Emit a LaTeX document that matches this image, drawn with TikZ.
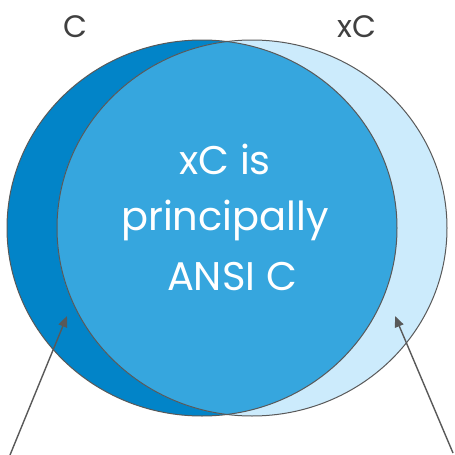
\documentclass[tikz,border=0pt]{standalone}
\usepackage{fontspec}
\setmainfont{Poppins}
\usetikzlibrary{arrows.meta}
\definecolor{cdark}{RGB}{2,132,200}
\definecolor{cmid}{RGB}{54,166,222}
\definecolor{clight}{RGB}{204,235,252}
\definecolor{cline}{RGB}{89,89,89}
\definecolor{ctext}{RGB}{64,64,64}
\tikzset{
  outline/.style={draw=cline, line width=1pt},
  lbl/.style={text=ctext, font=\fontsize{31}{31}\selectfont, inner sep=0pt, anchor=base},
  inner/.style={text=white, font=\fontsize{40}{58}\selectfont, inner sep=0pt, anchor=base},
  pointer/.style={draw=cline, line width=1.4pt, -{Triangle[length=11pt,width=9pt]}},
}
\begin{document}
\begin{tikzpicture}[x=1pt,y=-1pt]
\useasboundingbox (0,0) rectangle (455,455);
\fill[white] (0,0) rectangle (455,455);
\fill[cdark] (202,228) ellipse [x radius=195pt, y radius=188pt];
\fill[clight] (252,228) ellipse [x radius=195pt, y radius=188pt];
\begin{scope}
  \clip (202,228) ellipse [x radius=195pt, y radius=188pt];
  \fill[cmid] (252,228) ellipse [x radius=195pt, y radius=188pt];
\end{scope}
\draw[outline] (202,228) ellipse [x radius=195pt, y radius=188pt];
\draw[outline] (252,228) ellipse [x radius=195pt, y radius=188pt];
\node[lbl] (lc) at (75,37) {C};
\node[lbl] (lxc) at (357,37) {xC};
\node[inner] (t1) at (225,174) {xC is};
\node[inner] (t2) at (225,230) {principally};
\node[inner] (t3) at (232,290) {ANSI C};
\coordinate (a1s) at (10,455);
\coordinate (a1e) at (67,316);
\coordinate (a2s) at (453,453);
\coordinate (a2e) at (395,316);
\draw[pointer] (a1s) -- (a1e);
\draw[pointer] (a2s) -- (a2e);
\end{tikzpicture}
\end{document}
